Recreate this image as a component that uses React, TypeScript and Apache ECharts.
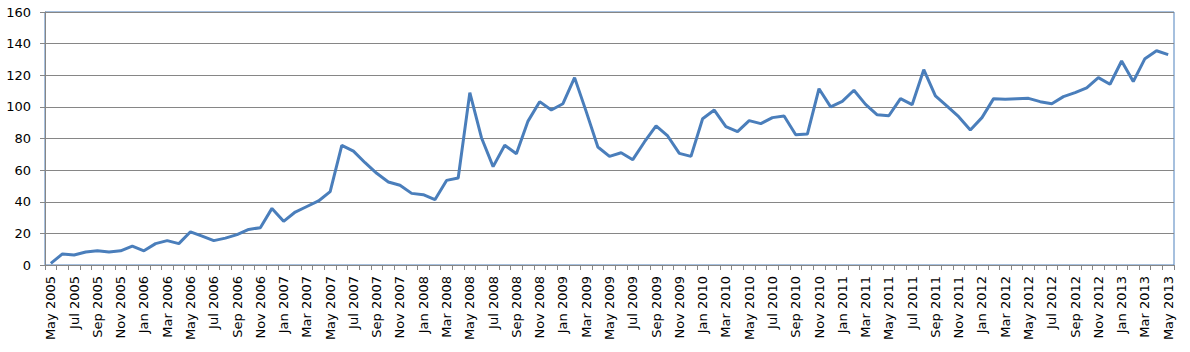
import React, { useEffect, useRef } from "react";
import * as echarts from "echarts";

const MONTHS = ["Jan", "Feb", "Mar", "Apr", "May", "Jun", "Jul", "Aug", "Sep", "Oct", "Nov", "Dec"];
const categories: string[] = [];
for (let y = 2005; y <= 2013; y++) {
  for (let m = 0; m < 12; m++) {
    if (y === 2005 && m < 4) continue;
    if (y === 2013 && m > 4) continue;
    categories.push(`${MONTHS[m]} ${y}`);
  }
}

const values2005 = [1, 7, 6.3, 8.2, 9, 8.2, 9, 12];
const values2006 = [9, 13.5, 15.4, 13.5, 21, 18.3, 15.4, 17, 19.2, 22.5, 23.6, 35.8];
const values2007 = [27.6, 33.5, 37, 40.5, 46.4, 75.7, 72, 64.7, 58, 52.5, 50.4, 45.3];
const values2008 = [44.5, 41.3, 53.5, 55, 109, 80.5, 62.2, 75.7, 70.4, 91, 103.3, 98];
const values2009 = [102, 118.5, 97, 74.6, 68.7, 71, 66.6, 77.8, 88, 81.6, 70.6, 68.7];
const values2010 = [92.5, 98, 87.5, 84.3, 91.3, 89.4, 93.2, 94.2, 82.4, 82.8, 111.5, 100];
const values2011 = [103.5, 110.5, 101.6, 95, 94.4, 105.2, 101.4, 123.5, 107, 100.5, 93.8, 85.4];
const values2012 = [93.2, 105.2, 104.8, 105.2, 105.4, 103.3, 102, 106.5, 109, 112, 118.5, 114.3];
const values2013 = [129, 116, 130.5, 135.5, 133];

const seriesValues = [
  ...values2005, ...values2006, ...values2007, ...values2008, ...values2009,
  ...values2010, ...values2011, ...values2012, ...values2013,
];

const yTicks = { min: 0, max: 160, interval: 20 };

export default function App() {
  const ref = useRef<HTMLDivElement>(null);
  useEffect(() => {
    document.body.style.margin = "0";
    const chart = echarts.init(ref.current!, null, { renderer: "svg" });
    chart.setOption({
      animation: false,
      backgroundColor: "#ffffff",
      grid: {
        left: 45, right: 16, top: 12, bottom: 87,
        show: true, borderColor: "#4F81BD", borderWidth: 1,
      },
      xAxis: {
        type: "category",
        data: categories,
        boundaryGap: true,
        axisLine: { lineStyle: { color: "#868686", width: 1 } },
        axisTick: { show: true, interval: 0, length: 5, lineStyle: { color: "#868686" } },
        axisLabel: {
          interval: 1, rotate: 90, margin: 11,
          fontFamily: "DejaVu Sans", fontSize: 13, color: "#000",
        },
        splitLine: { show: false },
      },
      yAxis: {
        type: "value",
        min: yTicks.min, max: yTicks.max, interval: yTicks.interval,
        axisLine: { show: true, lineStyle: { color: "#868686", width: 1 } },
        axisTick: { show: true, length: 5, lineStyle: { color: "#868686" } },
        axisLabel: { margin: 14, fontFamily: "DejaVu Sans", fontSize: 13, color: "#000" },
        splitLine: { show: true, lineStyle: { color: "#868686", width: 1 } },
      },
      series: [
        {
          type: "line",
          data: seriesValues,
          symbol: "none",
          lineStyle: { color: "#4A7EBB", width: 3 },
        },
      ],
    });
    return () => chart.dispose();
  }, []);
  return <div ref={ref} style={{ width: 1190, height: 352 }} />;
}
